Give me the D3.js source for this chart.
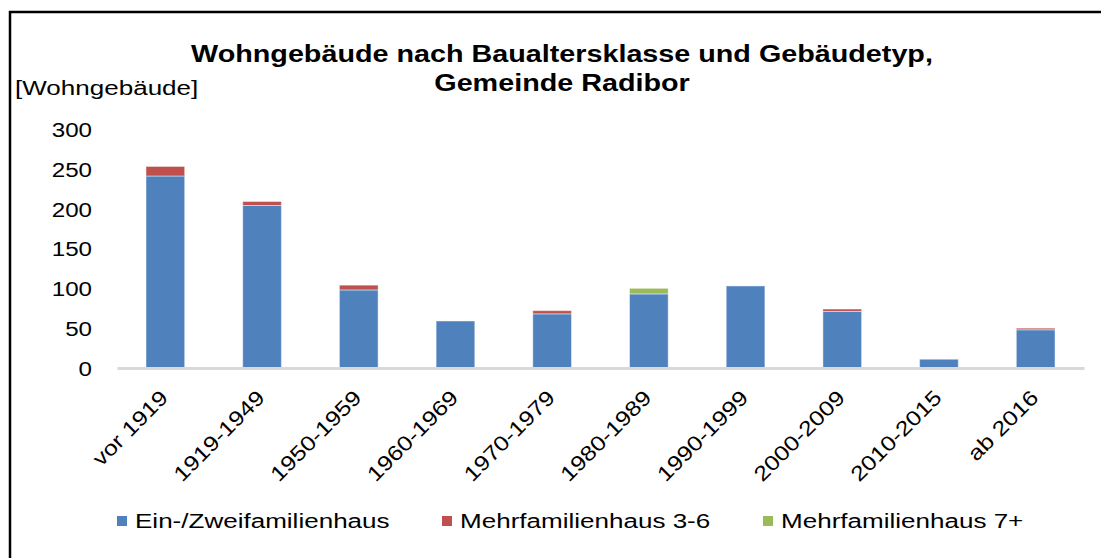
<!DOCTYPE html>
<html>
<head>
<meta charset="utf-8">
<script src="https://cdn.jsdelivr.net/npm/d3@7"></script>
<style>
  body { margin: 0; background: #fff; }
  text { font-family: "Liberation Sans", Arial, sans-serif; fill: #000; }
</style>
</head>
<body>
<div id="chart"></div>
<script>
// Baualtersklassen
var categories = ["vor 1919", "1919-1949", "1950-1959", "1960-1969", "1970-1979",
                  "1980-1989", "1990-1999", "2000-2009", "2010-2015", "ab 2016"];
var einZwei = [241, 204, 98, 59, 68, 93, 103, 71, 11, 48];
var mehr36  = [12, 5, 6, 0, 4, 0, 0, 3, 0, 2];
var mehr7   = [0, 0, 0, 0, 0, 7, 0, 0, 0, 0];
var seriesNames = ["Ein-/Zweifamilienhaus", "Mehrfamilienhaus 3-6", "Mehrfamilienhaus 7+"];
var yTicks = [0, 50, 100, 150, 200, 250, 300];

var colors = ["#4F81BD", "#C0504D", "#9BBB59"];
var SX = 1.24; // text in the original looks horizontally stretched

var W = 1101, H = 558;
var svg = d3.select("#chart").append("svg")
    .attr("width", W).attr("height", H);

svg.append("rect").attr("width", W).attr("height", H).attr("fill", "#fff");

// frame (left and top only are visible)
svg.append("path")
    .attr("d", "M10,558 V12 H1101")
    .attr("fill", "none")
    .attr("stroke", "#000")
    .attr("stroke-width", 2.5);

var table = categories.map(function (c, i) {
    return { cat: c, s0: einZwei[i], s1: mehr36[i], s2: mehr7[i] };
});
var stacked = d3.stack().keys(["s0", "s1", "s2"])(table);

var x = d3.scaleBand().domain(categories).range([117, 1084])
    .paddingInner(0.6).paddingOuter(0.3);
var y = d3.scaleLinear().domain([0, 300]).range([368, 129]);

// bars
svg.append("g").selectAll("g")
    .data(stacked)
    .join("g")
    .attr("fill", function (d, i) { return colors[i]; })
    .selectAll("rect")
    .data(function (d) { return d; })
    .join("rect")
    .attr("x", function (d) { return x(d.data.cat); })
    .attr("y", function (d) { return y(d[1]); })
    .attr("width", x.bandwidth())
    .attr("height", function (d) { return y(d[0]) - y(d[1]); })
    .attr("stroke", "#fff")
    .attr("stroke-opacity", 0.45)
    .attr("stroke-width", 1);

// x axis
var gx = svg.append("g")
    .attr("transform", "translate(0,368)")
    .call(d3.axisBottom(x).tickSize(0).tickPadding(0));
gx.select(".domain").attr("stroke", "#d9d9d9").attr("stroke-width", 3);
gx.selectAll("text")
    .attr("font-size", 21)
    .attr("text-anchor", "end")
    .attr("y", 0).attr("dy", 0)
    .attr("transform", "translate(4,31) rotate(-45) scale(1.18,1)");

// y axis
var gy = svg.append("g")
    .attr("transform", "translate(92,0)")
    .call(d3.axisLeft(y).tickValues(yTicks).tickSize(0).tickPadding(0));
gy.select(".domain").remove();
gy.selectAll("text")
    .attr("font-size", 21)
    .attr("x", 0)
    .attr("dy", "0.35em")
    .attr("transform", "scale(1.15,1)");

// unit label
svg.append("text")
    .attr("transform", "translate(15,95) scale(" + SX + ",1)")
    .attr("font-size", 21)
    .text("[Wohngebäude]");

// title
var title = svg.append("text")
    .attr("transform", "translate(562,0) scale(1.25,1)")
    .attr("text-anchor", "middle")
    .attr("font-size", 23)
    .attr("font-weight", "bold");
title.append("tspan").attr("x", 0).attr("y", 62).text("Wohngebäude nach Baualtersklasse und Gebäudetyp,");
title.append("tspan").attr("x", 0).attr("y", 91).text("Gemeinde Radibor");

// legend
var legendX = [117, 442, 763];
var legend = svg.append("g").selectAll("g")
    .data(seriesNames)
    .join("g")
    .attr("transform", function (d, i) { return "translate(" + legendX[i] + ",521)"; });
legend.append("rect")
    .attr("x", 0).attr("y", -5)
    .attr("width", 10).attr("height", 10)
    .attr("fill", function (d, i) { return colors[i]; });
legend.append("text")
    .attr("transform", "translate(18,0) scale(" + SX + ",1)")
    .attr("dy", "0.35em")
    .attr("font-size", 21)
    .text(function (d) { return d; });
</script>
</body>
</html>
